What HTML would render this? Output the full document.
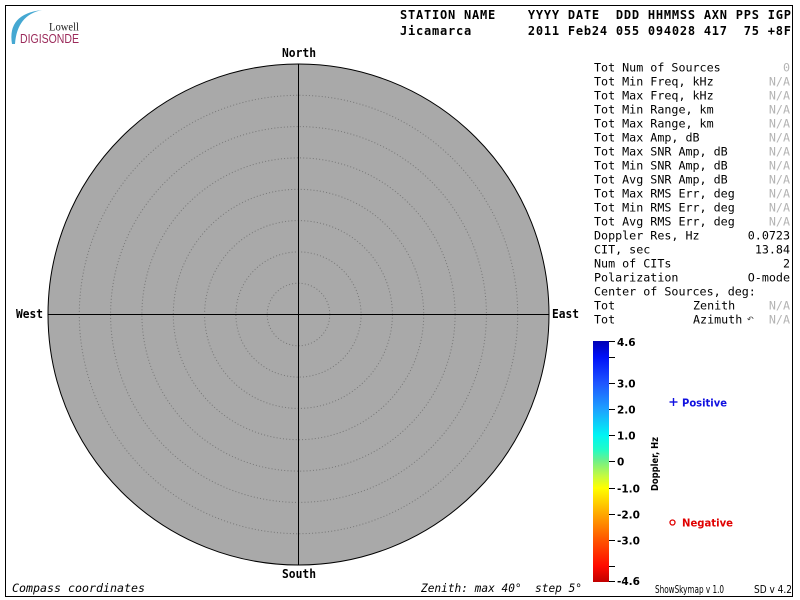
<!DOCTYPE html>
<html><head><meta charset="utf-8">
<style>
html,body{margin:0;padding:0;background:#fff;}
svg{display:block;}
text{white-space:pre;}
.mono{font-family:"DejaVu Sans Mono","Liberation Mono",monospace;}
.sans{font-family:"DejaVu Sans","Liberation Sans",sans-serif;}
</style></head>
<body>
<svg width="800" height="600" viewBox="0 0 800 600" xmlns="http://www.w3.org/2000/svg">
<defs>
<linearGradient id="cb" x1="0" y1="0" x2="0" y2="1">
<stop offset="0" stop-color="#0000b4"/>
<stop offset="0.066" stop-color="#0010f8"/>
<stop offset="0.174" stop-color="#1e55ff"/>
<stop offset="0.282" stop-color="#1ea0ff"/>
<stop offset="0.39" stop-color="#00f4f4"/>
<stop offset="0.45" stop-color="#20fcc8"/>
<stop offset="0.498" stop-color="#70f088"/>
<stop offset="0.56" stop-color="#c4fa40"/>
<stop offset="0.61" stop-color="#ffff00"/>
<stop offset="0.718" stop-color="#ffa800"/>
<stop offset="0.826" stop-color="#ff5400"/>
<stop offset="0.934" stop-color="#ff0a00"/>
<stop offset="1" stop-color="#c00000"/>
</linearGradient>
</defs>
<rect x="0" y="0" width="800" height="600" fill="#fff"/>
<rect x="5.5" y="5.5" width="787" height="591" fill="none" stroke="#000" stroke-width="1"/>

<!-- logo -->
<path d="M12,44 Q7,14 42,10 Q17,15 15,44 Z" fill="#45a8d2"/>
<text x="49" y="30.5" font-family="'Liberation Serif',serif" font-size="11.5" fill="#222" textLength="30" lengthAdjust="spacingAndGlyphs">Lowell</text>
<text x="20" y="43" font-family="'Liberation Sans',sans-serif" font-size="12.5" fill="#9b2a5a" textLength="59" lengthAdjust="spacingAndGlyphs">DIGISONDE</text>

<!-- header -->
<text class="mono" x="400" y="19" font-size="12" font-weight="bold" fill="#000" textLength="391" lengthAdjust="spacing">STATION NAME    YYYY DATE  DDD HHMMSS AXN PPS IGP</text>
<text class="mono" x="400" y="35" font-size="12" font-weight="bold" fill="#000" textLength="391" lengthAdjust="spacing">Jicamarca       2011 Feb24 055 094028 417  75 +8F</text>

<!-- sky map -->
<circle cx="298.5" cy="314.5" r="250.5" fill="#a9a9a9" stroke="#000" stroke-width="1"/>
<g fill="none" stroke="#777" stroke-width="1" stroke-dasharray="1 2.2">
<circle cx="298.5" cy="314.5" r="31.3"/>
<circle cx="298.5" cy="314.5" r="62.6"/>
<circle cx="298.5" cy="314.5" r="93.9"/>
<circle cx="298.5" cy="314.5" r="125.2"/>
<circle cx="298.5" cy="314.5" r="156.6"/>
<circle cx="298.5" cy="314.5" r="187.9"/>
<circle cx="298.5" cy="314.5" r="219.2"/>
</g>
<line x1="298.5" y1="64" x2="298.5" y2="565" stroke="#000" stroke-width="1"/>
<line x1="48" y1="314.5" x2="549" y2="314.5" stroke="#000" stroke-width="1"/>

<g class="mono" font-size="12" font-weight="bold" fill="#000">
<text x="299" y="57" text-anchor="middle" textLength="34" lengthAdjust="spacingAndGlyphs">North</text>
<text x="299" y="578" text-anchor="middle" textLength="34" lengthAdjust="spacingAndGlyphs">South</text>
<text x="16" y="318" textLength="27" lengthAdjust="spacingAndGlyphs">West</text>
<text x="552" y="318" textLength="27" lengthAdjust="spacingAndGlyphs">East</text>
</g>

<!-- right panel -->
<g class="mono" font-size="11.7" fill="#000">
<text x="594" y="71.5">Tot Num of Sources</text>
<text x="594" y="85.5">Tot Min Freq, kHz</text>
<text x="594" y="99.5">Tot Max Freq, kHz</text>
<text x="594" y="113.5">Tot Min Range, km</text>
<text x="594" y="127.5">Tot Max Range, km</text>
<text x="594" y="141.5">Tot Max Amp, dB</text>
<text x="594" y="155.5">Tot Max SNR Amp, dB</text>
<text x="594" y="169.5">Tot Min SNR Amp, dB</text>
<text x="594" y="183.5">Tot Avg SNR Amp, dB</text>
<text x="594" y="197.5">Tot Max RMS Err, deg</text>
<text x="594" y="211.5">Tot Min RMS Err, deg</text>
<text x="594" y="225.5">Tot Avg RMS Err, deg</text>
<text x="594" y="239.5">Doppler Res, Hz</text>
<text x="594" y="253.5">CIT, sec</text>
<text x="594" y="267.5">Num of CITs</text>
<text x="594" y="281.5">Polarization</text>
<text x="594" y="295.5">Center of Sources, deg:</text>
<text x="594" y="309.5">Tot</text>
<text x="594" y="323.5">Tot</text>
<text x="693" y="309.5">Zenith</text>
<text x="693" y="323.5">Azimuth</text>
<text x="790" y="239.5" text-anchor="end">0.0723</text>
<text x="790" y="253.5" text-anchor="end">13.84</text>
<text x="790" y="267.5" text-anchor="end">2</text>
<text x="790" y="281.5" text-anchor="end">O-mode</text>
</g>
<text x="747" y="322" font-family="'DejaVu Sans',sans-serif" font-size="8" fill="#333">↶</text>
<g class="mono" font-size="11.7" fill="#b4b4b4" text-anchor="end">
<text x="790" y="71.5">0</text>
<text x="790" y="85.5">N/A</text>
<text x="790" y="99.5">N/A</text>
<text x="790" y="113.5">N/A</text>
<text x="790" y="127.5">N/A</text>
<text x="790" y="141.5">N/A</text>
<text x="790" y="155.5">N/A</text>
<text x="790" y="169.5">N/A</text>
<text x="790" y="183.5">N/A</text>
<text x="790" y="197.5">N/A</text>
<text x="790" y="211.5">N/A</text>
<text x="790" y="225.5">N/A</text>
<text x="790" y="309.5">N/A</text>
<text x="790" y="323.5">N/A</text>
</g>

<!-- colorbar -->
<rect x="593" y="341" width="16" height="241" fill="url(#cb)"/>
<g stroke="#000" stroke-width="1">
<line x1="609" y1="341.5" x2="615" y2="341.5"/>
<line x1="609" y1="357.5" x2="615" y2="357.5"/>
<line x1="609" y1="383.5" x2="615" y2="383.5"/>
<line x1="609" y1="409.5" x2="615" y2="409.5"/>
<line x1="609" y1="435.5" x2="615" y2="435.5"/>
<line x1="609" y1="461.5" x2="615" y2="461.5"/>
<line x1="609" y1="488.5" x2="615" y2="488.5"/>
<line x1="609" y1="514.5" x2="615" y2="514.5"/>
<line x1="609" y1="540.5" x2="615" y2="540.5"/>
<line x1="609" y1="566.5" x2="615" y2="566.5"/>
<line x1="609" y1="581.5" x2="615" y2="581.5"/>
</g>
<g class="sans" font-size="10.5" font-weight="bold" fill="#000">
<text x="617" y="346">4.6</text>
<text x="617" y="387.5">3.0</text>
<text x="617" y="413.5">2.0</text>
<text x="617" y="439.5">1.0</text>
<text x="617" y="465.5">0</text>
<text x="617" y="492.5">-1.0</text>
<text x="617" y="518.5">-2.0</text>
<text x="617" y="544.5">-3.0</text>
<text x="617" y="585">-4.6</text>
</g>
<text class="sans" transform="translate(658,491) rotate(-90)" font-size="9.5" font-weight="bold" fill="#000" textLength="54" lengthAdjust="spacingAndGlyphs">Doppler, Hz</text>

<!-- legend -->
<g stroke="#1010e0" stroke-width="1.4">
<line x1="669.5" y1="402" x2="677.5" y2="402"/>
<line x1="673.5" y1="398" x2="673.5" y2="406"/>
</g>
<text class="sans" x="682" y="406.5" font-size="10.5" font-weight="bold" fill="#1010e0" textLength="45" lengthAdjust="spacingAndGlyphs">Positive</text>
<circle cx="672.5" cy="522.5" r="2.5" fill="none" stroke="#e00000" stroke-width="1.3"/>
<text class="sans" x="682" y="526.5" font-size="10.5" font-weight="bold" fill="#e00000" textLength="51" lengthAdjust="spacingAndGlyphs">Negative</text>

<!-- footer -->
<text class="mono" x="12" y="592" font-size="11.5" font-style="italic" fill="#000" textLength="133" lengthAdjust="spacingAndGlyphs">Compass coordinates</text>
<text class="mono" x="421" y="592" font-size="11.5" font-style="italic" fill="#000" textLength="161" lengthAdjust="spacingAndGlyphs">Zenith: max 40°  step 5°</text>
<text class="sans" x="655" y="593" font-size="10.5" fill="#000" textLength="69" lengthAdjust="spacingAndGlyphs">ShowSkymap v 1.0</text>
<text class="sans" x="754" y="593" font-size="10.5" fill="#000" textLength="38" lengthAdjust="spacingAndGlyphs">SD v 4.2</text>
</svg>
</body></html>
